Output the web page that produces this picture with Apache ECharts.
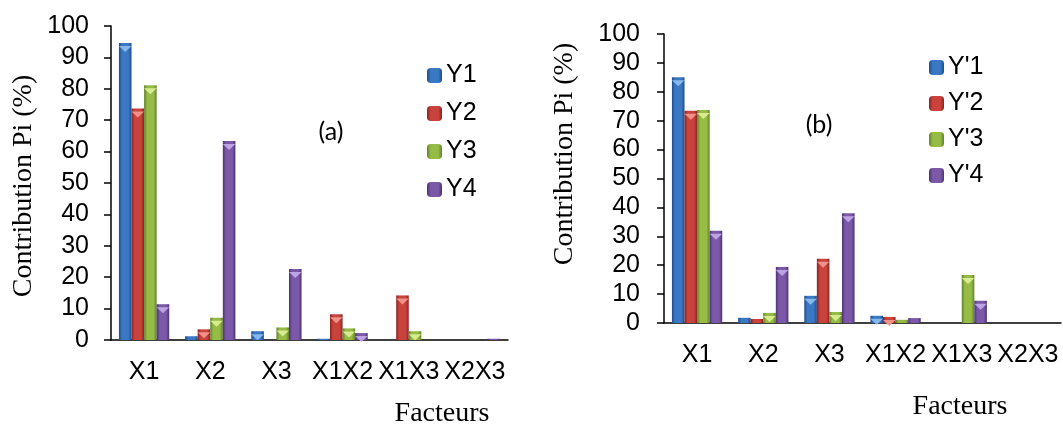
<!DOCTYPE html>
<html>
<head>
<meta charset="utf-8">
<script src="https://cdn.jsdelivr.net/npm/echarts@6/dist/echarts.min.js"></script>
<style>
html,body{margin:0;padding:0;background:#fff;}
#c{width:1063px;height:427px;}
</style>
</head>
<body>
<div id="c"></div>
<script>
const categories = ['X1', 'X2', 'X3', 'X1X2', 'X1X3', 'X2X3'];
const yTicks = [0, 10, 20, 30, 40, 50, 60, 70, 80, 90, 100];

const namesA = ['Y1', 'Y2', 'Y3', 'Y4'];
const Y1 = [94.6, 1.2, 2.8, 0.4, 0, 0];
const Y2 = [73.7, 3.4, 0, 8.2, 14.2, 0];
const Y3 = [81.1, 7.1, 4.0, 3.7, 2.8, 0];
const Y4 = [11.4, 63.4, 22.6, 2.2, 0, 0.4];

const namesB = ["Y'1", "Y'2", "Y'3", "Y'4"];
const Yp1 = [85.0, 1.8, 9.4, 2.5, 0, 0];
const Yp2 = [73.4, 1.4, 22.2, 2.1, 0, 0];
const Yp3 = [73.7, 3.5, 3.8, 1.1, 16.6, 0];
const Yp4 = [31.9, 19.4, 38.0, 1.7, 7.7, 0];

const palette = [
  ['#1E4C8C', '#3A78C4', '#86B8EC'],
  ['#8A2320', '#C9433C', '#F0918A'],
  ['#61812A', '#97BC46', '#D6EC8E'],
  ['#4C3373', '#7B59A8', '#BEA3E4']
];
function grad(i) {
  const p = palette[i];
  return {
    type: 'linear', x: 0, y: 0, x2: 1, y2: 0,
    colorStops: [
      {offset: 0, color: p[0]},
      {offset: 0.25, color: p[1]},
      {offset: 0.75, color: p[1]},
      {offset: 1, color: p[0]}
    ]
  };
}

const sans = 'Liberation Sans';

function xAxis(gi) {
  return {
    type: 'category', gridIndex: gi, data: categories,
    axisLine: {lineStyle: {color: '#000', width: 1.5}},
    axisTick: {length: 8, lineStyle: {color: '#000', width: 1.5}},
    axisLabel: {color: '#000', fontFamily: sans, fontSize: 25, margin: 20, interval: 0}
  };
}
function yAxis(gi, margin) {
  return {
    type: 'value', gridIndex: gi, min: 0, max: 100, interval: 10,
    axisLine: {show: true, lineStyle: {color: '#000', width: 1.5}},
    axisTick: {show: true, length: 7, lineStyle: {color: '#000', width: 1.5}},
    splitLine: {show: false},
    axisLabel: {color: '#000', fontFamily: sans, fontSize: 25, margin: margin,
      formatter: v => yTicks.includes(v) ? String(v) : ''}
  };
}

function barSeries(arrs, names, ai) {
  const bars = arrs.map((d, i) => ({
    name: names[i], type: 'bar', xAxisIndex: ai, yAxisIndex: ai, data: d,
    barGap: '0%', barCategoryGap: '24%',
    itemStyle: {color: grad(i)}
  }));
  const caps = arrs.map((d, i) => ({
    name: names[i], type: 'pictorialBar', xAxisIndex: ai, yAxisIndex: ai,
    data: d.map(v => v >= 2 ? v : '-'),
    barGap: '0%', barCategoryGap: '24%',
    symbol: 'path://M0,0 L10,0 L5,5 Z', symbolPosition: 'end',
    symbolSize: ['100%', 6], symbolOffset: [0, '50%'],
    itemStyle: {color: palette[i][2]}, z: 3, silent: true
  }));
  return bars.concat(caps);
}

const chart = echarts.init(document.getElementById('c'), null, {renderer: 'canvas'});
chart.setOption({
  animation: false,
  backgroundColor: '#fff',
  grid: [
    {left: 111, top: 26, width: 397, height: 314},
    {left: 664, top: 34, width: 397, height: 289}
  ],
  xAxis: [xAxis(0), xAxis(1)],
  yAxis: [yAxis(0, 22), yAxis(1, 24)],
  legend: [
    {data: namesA, orient: 'vertical', left: 422, top: 58, itemWidth: 15, itemHeight: 15,
     itemGap: 13, textStyle: {fontFamily: sans, fontSize: 25, color: '#000', lineHeight: 25, padding: [0, 0, 0, -1]}},
    {data: namesB, orient: 'vertical', left: 924, top: 50, itemWidth: 15, itemHeight: 15,
     itemGap: 11, textStyle: {fontFamily: sans, fontSize: 25, color: '#000', lineHeight: 25, padding: [0, 0, 0, -1]}}
  ],
  graphic: [
    {type: 'text', x: 24, y: 186, rotation: Math.PI / 2,
     style: {text: 'Contribution Pi (%)', font: '28px "Liberation Serif"', fill: '#000', textAlign: 'center', textVerticalAlign: 'middle'}},
    {type: 'text', x: 565, y: 154, rotation: Math.PI / 2,
     style: {text: 'Contribution Pi (%)', font: '28px "Liberation Serif"', fill: '#000', textAlign: 'center', textVerticalAlign: 'middle'}},
    {type: 'text', x: 442, y: 414,
     style: {text: 'Facteurs', font: '28px "Liberation Serif"', fill: '#000', textAlign: 'center', textVerticalAlign: 'middle'}},
    {type: 'text', x: 960, y: 407,
     style: {text: 'Facteurs', font: '28px "Liberation Serif"', fill: '#000', textAlign: 'center', textVerticalAlign: 'middle'}},
    {type: 'text', x: 331, y: 132,
     style: {text: '(a)', font: '25px Lato', fill: '#000', textAlign: 'center', textVerticalAlign: 'middle'}},
    {type: 'text', x: 819, y: 125,
     style: {text: '(b)', font: '25px Lato', fill: '#000', textAlign: 'center', textVerticalAlign: 'middle'}}
  ],
  series: barSeries([Y1, Y2, Y3, Y4], namesA, 0).concat(barSeries([Yp1, Yp2, Yp3, Yp4], namesB, 1))
});
</script>
</body>
</html>
